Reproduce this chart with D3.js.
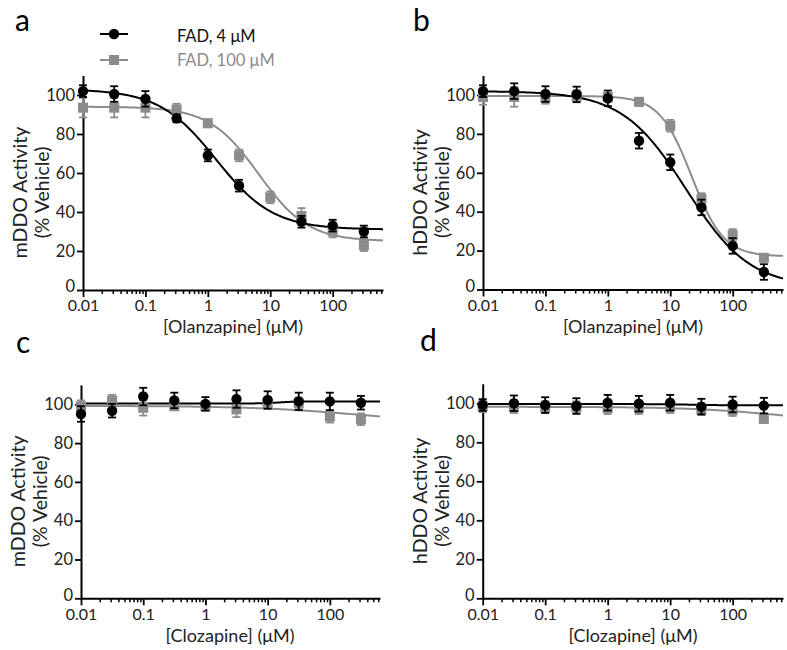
<!DOCTYPE html>
<html><head><meta charset="utf-8">
<script src="https://cdn.jsdelivr.net/npm/d3@7"></script>
<style>body{margin:0;background:#fff}svg{display:block}text{font-family:Lato,"Open Sans",sans-serif}</style>
</head><body>
<svg id="c" width="787" height="650"></svg>
<script>
// ---- data ----
const conc = [0.01, 0.0316, 0.1, 0.316, 1, 3.16, 10, 31.6, 100, 316];
const xTickValues = [0.01, 0.1, 1, 10, 100];
const xTickLabels = ["0.01", "0.1", "1", "10", "100"];
const yTickValues = [0, 20, 40, 60, 80, 100];
const seriesNames = ["FAD, 4 \u03bcM", "FAD, 100 \u03bcM"];

// panel a (mDDO, olanzapine)
const aFad4 = [102, 100.5, 98, 88, 69, 53.5, null, 35, 33, 30];
const aFad4Err = [3, 4, 4, 2, 3, 3, null, 3, 3, 3];
const aFad100 = [93.5, 93.5, 93.5, 92.5, 85.5, 69, 47.5, 38, 30, 23];
const aFad100Err = [5, 5, 5, 3, 2, 3, 3, 4, 3, 3];
const aFit4 = [103, 31, 1.35, 0.95];     // top, bottom, IC50, Hill
const aFit100 = [94, 25, 6.5, 1.1];

// panel b (hDDO, olanzapine)
const bFad4 = [102, 102, 100.5, 100.3, 98.3, 76.5, 65.4, 42.2, 22.4, 9];
const bFad4Err = [3, 4, 4, 4, 4, 4, 4, 4, 4, 4];
const bFad100 = [99, 99, 98.5, 99.5, 99, 96.5, 84.2, 46.5, 28, 16.3];
const bFad100Err = [4, 5, 3, 3, 2, 2, 3, 3, 3, 2];
const bFit4 = [102, 1, 18, 0.85];
const bFit100 = [99.5, 17, 22, 1.7];

// panel c (mDDO, clozapine)
const cFad4 = [95, 96.7, 104, 102, 100.2, 102.7, 102.2, 101.5, 101.5, 100.8];
const cFad4Err = [4, 3.5, 4.5, 4, 3.5, 4.5, 4.5, 4.5, 4.5, 3.5];
const cFad100 = [99, 101.9, 98.2, 99, 99, 97.4, 100.5, 100.5, 93.6, 92.3];
const cFad100Err = [3, 3, 4, 2, 2, 4, 2, 3, 3, 3];
const cFit4 = [100.4, 101.5, 15, 3];
const cFit100 = [99.2, 90, 300, 0.5];

// panel d (hDDO, clozapine)
const dFad4 = [99.1, 100, 99.1, 98.6, 100.3, 99.8, 100.3, 98.3, 99.4, 98.8];
const dFad4Err = [3, 4, 4, 4, 4, 4, 4, 4, 4, 4];
const dFad100 = [98.5, 98, 98, 98, 97.5, 97.5, 98, 97, 96.5, 92];
const dFad100Err = [3, 3, 3, 3, 3, 3, 3, 3, 3, 2];
const dFit4 = [99.6, 99, 20, 2];
const dFit100 = [98.2, 90, 500, 0.6];

// ---- drawing ----
const svg = d3.select("#c");
const BLACK = "#000", GRAY = "#8c8c8c";

const panels = [
  {letter:"a", lx:15, ly:30.5, x0:83, x1:383, y0:290, y100:95, ytitle:"mDDO Activity", xtitle:"[Olanzapine] (\u03bcM)", xtx:233, xty:333,
   s4:aFad4, e4:aFad4Err, s100:aFad100, e100:aFad100Err, f4:aFit4, f100:aFit100},
  {letter:"b", lx:413, ly:30.5, x0:483, x1:783, y0:289.5, y100:95, ytitle:"hDDO Activity", xtitle:"[Olanzapine] (\u03bcM)", xtx:633, xty:333,
   s4:bFad4, e4:bFad4Err, s100:bFad100, e100:bFad100Err, f4:bFit4, f100:bFit100},
  {letter:"c", lx:16, ly:353, x0:81, x1:380, y0:598.3, y100:404.3, ytitle:"mDDO Activity", xtitle:"[Clozapine] (\u03bcM)", xtx:230, xty:642,
   s4:cFad4, e4:cFad4Err, s100:cFad100, e100:cFad100Err, f4:cFit4, f100:cFit100},
  {letter:"d", lx:420, ly:351, x0:482.7, x1:783, y0:598.3, y100:403.3, ytitle:"hDDO Activity", xtitle:"[Clozapine] (\u03bcM)", xtx:633, xty:642,
   s4:dFad4, e4:dFad4Err, s100:dFad100, e100:dFad100Err, f4:dFit4, f100:dFit100}
];

function hill(p, x){ return p[1] + (p[0]-p[1])/(1+Math.pow(x/p[2], p[3])); }

panels.forEach(P => {
  const x = d3.scaleLog().domain([0.01, 640]).range([P.x0, P.x1]);
  const y = d3.scaleLinear().domain([0, 100]).range([P.y0, P.y100]);
  const g = svg.append("g");

  g.append("text").attr("x", P.lx).attr("y", P.ly).attr("font-size", 30).attr("fill", "#000").text(P.letter);

  // x axis with minor ticks
  const minor = [];
  for (let e = -2; e <= 2; e++) for (let m = 2; m <= 9; m++) { const v = m*Math.pow(10,e); if (v <= 640) minor.push(v); }
  g.append("g").attr("transform", `translate(0,${P.y0})`)
    .call(d3.axisBottom(x).tickValues(minor).tickSize(4).tickFormat(""))
    .call(a => a.select(".domain").remove())
    .call(a => a.selectAll("line").attr("stroke-width", 1.5));
  const xa = g.append("g").attr("transform", `translate(0,${P.y0})`)
    .call(d3.axisBottom(x).tickValues(xTickValues).tickSize(7).tickSizeOuter(0).tickPadding(3)
      .tickFormat((d,i) => xTickLabels[i]));
  xa.select(".domain").attr("stroke-width", 2);
  xa.selectAll("line").attr("stroke-width", 1.8);
  xa.selectAll("text").attr("font-size", 16).attr("fill", "#222");

  // y axis
  const yScaleFull = d3.scaleLinear().domain([0, 110]).range([P.y0, P.y0 - (P.y0 - P.y100)*1.1]);
  const ya = g.append("g").attr("transform", `translate(${P.x0},0)`)
    .call(d3.axisLeft(yScaleFull).tickValues(yTickValues).tickSize(6).tickSizeOuter(0).tickPadding(2));
  ya.select(".domain").attr("stroke-width", 2);
  ya.selectAll("line").attr("stroke-width", 1.8);
  ya.selectAll("text").attr("font-size", 16.5).attr("fill", "#222")
    .attr("dy", d => d === 0 ? "0.12em" : "0.32em");

  // titles
  const yc = y(50);
  const yt = g.append("text").attr("transform", `translate(${P.x0-56},${yc}) rotate(-90)`)
    .attr("text-anchor", "middle").attr("font-size", 19.5).attr("fill", "#222");
  yt.append("tspan").attr("x", 0).attr("y", 0).text(P.ytitle);
  yt.append("tspan").attr("x", 0).attr("y", 22).text("(% Vehicle)");
  g.append("text").attr("x", P.xtx).attr("y", P.xty).attr("text-anchor", "middle")
    .attr("font-size", 18).attr("fill", "#222").text(P.xtitle);

  // fit curves
  const xs = d3.range(0, 201).map(i => Math.pow(10, -2 + i*(Math.log10(640)+2)/200));
  const line = d3.line().x(d => x(d[0])).y(d => y(d[1]));
  [[P.f100, GRAY], [P.f4, BLACK]].forEach(([p, col]) => {
    g.append("path").attr("d", line(xs.map(v => [v, hill(p, v)])))
      .attr("fill", "none").attr("stroke", col).attr("stroke-width", 2);
  });

  // points with error bars
  function drawSeries(vals, errs, col, shape) {
    conc.forEach((c, i) => {
      const v = vals[i]; if (v == null) return;
      const e = errs[i]; const cx = x(c);
      g.append("line").attr("x1", cx).attr("x2", cx).attr("y1", y(v-e)).attr("y2", y(v+e)).attr("stroke", col).attr("stroke-width", 1.8);
      [v-e, v+e].forEach(w => g.append("line").attr("x1", cx-4).attr("x2", cx+4).attr("y1", y(w)).attr("y2", y(w)).attr("stroke", col).attr("stroke-width", 1.8));
      if (shape === "circle") g.append("circle").attr("cx", cx).attr("cy", y(v)).attr("r", 5.2).attr("fill", col);
      else g.append("rect").attr("x", cx-5).attr("y", y(v)-5).attr("width", 10).attr("height", 10).attr("fill", col);
    });
  }
  drawSeries(P.s100, P.e100, GRAY, "square");
  drawSeries(P.s4, P.e4, BLACK, "circle");
});

// legend (panel a)
const leg = svg.append("g");
[[BLACK, "circle", 34, 42], [GRAY, "square", 60, 66]].forEach(([col, shape, ly, ty], i) => {
  leg.append("line").attr("x1", 100).attr("x2", 128).attr("y1", ly).attr("y2", ly).attr("stroke", col).attr("stroke-width", 2);
  if (shape === "circle") leg.append("circle").attr("cx", 114).attr("cy", ly).attr("r", 5.2).attr("fill", col);
  else leg.append("rect").attr("x", 109).attr("y", ly-5).attr("width", 10).attr("height", 10).attr("fill", col);
  leg.append("text").attr("x", 177).attr("y", ty).attr("font-size", 16.5).attr("fill", i === 0 ? "#111" : GRAY).text(seriesNames[i]);
});
</script>
</body></html>
